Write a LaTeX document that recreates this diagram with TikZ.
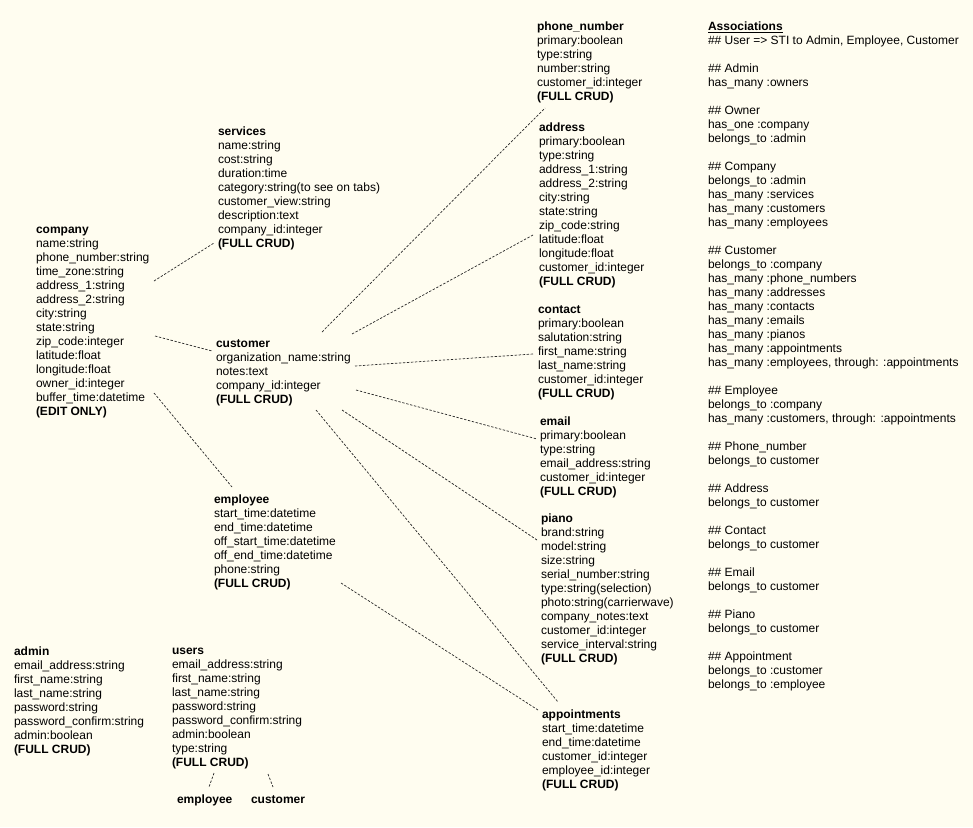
\documentclass[tikz,border=0pt]{standalone}
\usepackage{fontspec}
\setmainfont{Liberation Sans}
\usetikzlibrary{calc}
\definecolor{paper}{RGB}{255,253,240}
\definecolor{ink}{RGB}{0,0,0}
\definecolor{link}{RGB}{40,40,40}
\begin{document}
\begin{tikzpicture}[x=1pt,y=-1pt,
  tbl/.style={anchor=north west, inner sep=0pt, outer sep=0pt, align=left,
              text=ink, font=\fontsize{12}{14}\selectfont},
  rel/.style={draw=link, line width=0.7pt, dash pattern=on 2.4pt off 1.6pt}]
\useasboundingbox (0,0) rectangle (973,827);
\fill[paper] (0,0) rectangle (973,827);

% ---- tables ----
\node[tbl] (company) at (36,224) {\textbf{company}\strut\\
name:string\\ phone\_number:string\\ time\_zone:string\\ address\_1:string\\
address\_2:string\\ city:string\\ state:string\\ zip\_code:integer\\
latitude:float\\ longitude:float\\ owner\_id:integer\\ buffer\_time:datetime\\
\textbf{(EDIT ONLY)}};

\node[tbl] (services) at (218,126) {\textbf{services}\strut\\
name:string\\ cost:string\\ duration:time\\ category:string(to see on tabs)\\
customer\_view:string\\ description:text\\ company\_id:integer\\
\textbf{(FULL CRUD)}};

\node[tbl] (customer) at (216,338) {\textbf{customer}\strut\\
organization\_name:string\\ notes:text\\ company\_id:integer\\
\textbf{(FULL CRUD)}};

\node[tbl] (employee) at (214,494) {\textbf{employee}\strut\\
start\_time:datetime\\ end\_time:datetime\\ off\_start\_time:datetime\\
off\_end\_time:datetime\\ phone:string\\ \textbf{(FULL CRUD)}};

\node[tbl] (admin) at (14,646) {\textbf{admin}\strut\\
email\_address:string\\ first\_name:string\\ last\_name:string\\
password:string\\ password\_confirm:string\\ admin:boolean\\
\textbf{(FULL CRUD)}};

\node[tbl] (users) at (172,645) {\textbf{users}\strut\\
email\_address:string\\ first\_name:string\\ last\_name:string\\
password:string\\ password\_confirm:string\\ admin:boolean\\ type:string\\
\textbf{(FULL CRUD)}};

\node[tbl] (subemployee) at (177,794) {\textbf{employee}\strut};
\node[tbl] (subcustomer) at (251,794) {\textbf{customer}\strut};

\node[tbl] (phone) at (537,21) {\textbf{phone\_number}\strut\\
primary:boolean\\ type:string\\ number:string\\ customer\_id:integer\\
\textbf{(FULL CRUD)}};

\node[tbl] (address) at (539,122) {\textbf{address}\strut\\
primary:boolean\\ type:string\\ address\_1:string\\ address\_2:string\\
city:string\\ state:string\\ zip\_code:string\\ latitude:float\\
longitude:float\\ customer\_id:integer\\ \textbf{(FULL CRUD)}};

\node[tbl] (contact) at (538,304) {\textbf{contact}\strut\\
primary:boolean\\ salutation:string\\ first\_name:string\\ last\_name:string\\
customer\_id:integer\\ \textbf{(FULL CRUD)}};

\node[tbl] (email) at (540,416) {\textbf{email}\strut\\
primary:boolean\\ type:string\\ email\_address:string\\ customer\_id:integer\\
\textbf{(FULL CRUD)}};

\node[tbl] (piano) at (541,513) {\textbf{piano}\strut\\
brand:string\\ model:string\\ size:string\\ serial\_number:string\\
type:string(selection)\\ photo:string(carrierwave)\\ company\_notes:text\\
customer\_id:integer\\ service\_interval:string\\ \textbf{(FULL CRUD)}};

\node[tbl] (appointments) at (542,709) {\textbf{appointments}\strut\\
start\_time:datetime\\ end\_time:datetime\\ customer\_id:integer\\
employee\_id:integer\\ \textbf{(FULL CRUD)}};

% ---- association notes ----
\node[tbl] (assoc) at (708,21) {\textbf{\underline{Associations}}\strut\\
\#\# User => STI to Admin, Employee, Customer\\[14pt]
\#\# Admin\\ has\_many :owners\\[14pt]
\#\# Owner\\ has\_one :company\\ belongs\_to :admin\\[14pt]
\#\# Company\\ belongs\_to :admin\\ has\_many :services\\ has\_many :customers\\
has\_many :employees\\[14pt]
\#\# Customer\\ belongs\_to :company\\ has\_many :phone\_numbers\\
has\_many :addresses\\ has\_many :contacts\\ has\_many :emails\\
has\_many :pianos\\ has\_many :appointments\\
has\_many :employees, through: :appointments\\[14pt]
\#\# Employee\\ belongs\_to :company\\
has\_many :customers, through: :appointments\\[14pt]
\#\# Phone\_number\\ belongs\_to customer\\[14pt]
\#\# Address\\ belongs\_to customer\\[14pt]
\#\# Contact\\ belongs\_to customer\\[14pt]
\#\# Email\\ belongs\_to customer\\[14pt]
\#\# Piano\\ belongs\_to customer\\[14pt]
\#\# Appointment\\ belongs\_to :customer\\ belongs\_to :employee};

% ---- relations ----
\draw[rel] ($(company.north west)+(118,57)$)  -- ($(services.north west)+(-4,117)$);
\draw[rel] ($(company.north west)+(119,112)$) -- ($(customer.north west)+(-4,13)$);
\draw[rel] ($(company.north west)+(118,169)$) -- ($(employee.north west)+(18,-7)$);
\draw[rel] ($(customer.north west)+(106,-6)$) -- ($(phone.north west)+(8,87)$);
\draw[rel] ($(customer.north west)+(136,-4)$) -- ($(address.north west)+(-6,113)$);
\draw[rel] ($(customer.north west)+(139,28)$) -- ($(contact.north west)+(-5,50)$);
\draw[rel] ($(customer.north west)+(140,52)$) -- ($(email.north west)+(-3,23)$);
\draw[rel] ($(customer.north west)+(126,72)$) -- ($(piano.north west)+(-4,27)$);
\draw[rel] ($(customer.north west)+(100,72)$) -- ($(appointments.north west)+(16,-7)$);
\draw[rel] ($(employee.north west)+(127,89)$) -- ($(appointments.north west)+(-4,1)$);
\draw[rel] ($(users.north west)+(42,128)$) -- ($(subemployee.north west)+(32,-7)$);
\draw[rel] ($(users.north west)+(96,129)$) -- ($(subcustomer.north west)+(22,-7)$);
\end{tikzpicture}
\end{document}
